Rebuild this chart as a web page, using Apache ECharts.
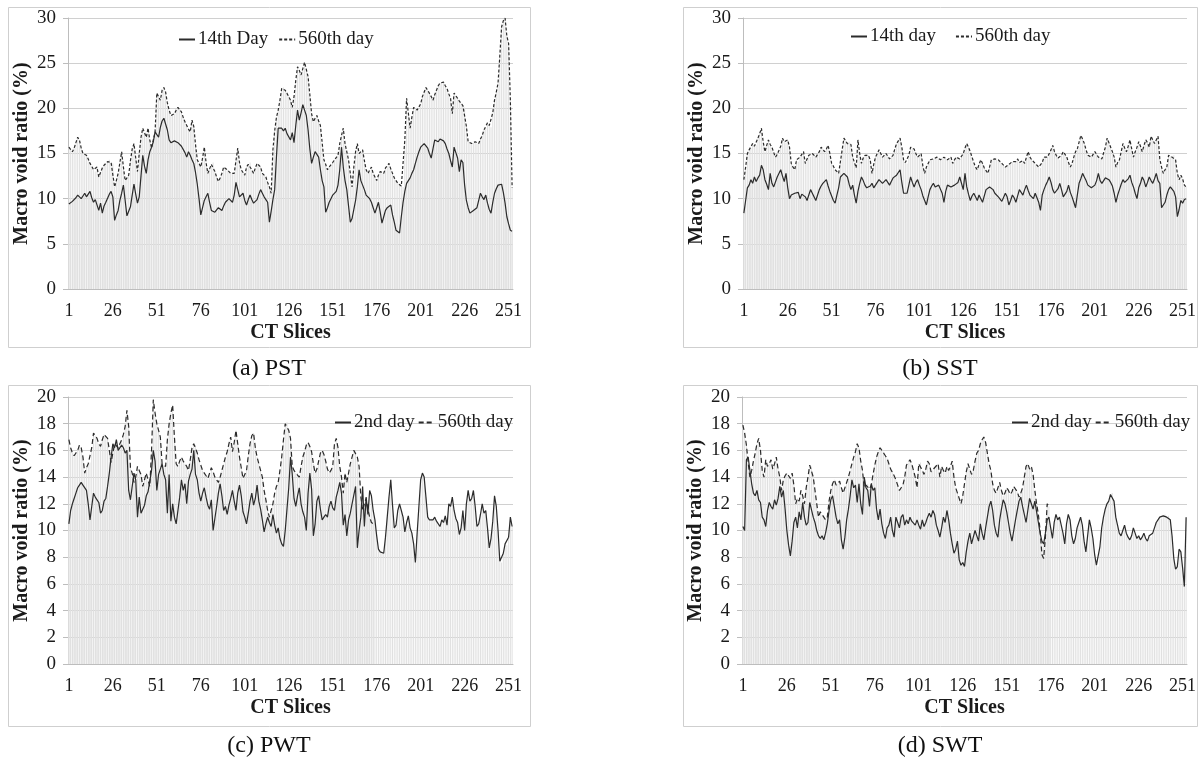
<!DOCTYPE html>
<html>
<head>
<meta charset="utf-8">
<title>Macro void ratio</title>
<script src="https://cdn.jsdelivr.net/npm/echarts@6/dist/echarts.min.js"></script>
<style>
html,body{margin:0;padding:0;background:#fff;}
#main{width:1200px;height:760px;}
</style>
</head>
<body>
<div id="main"></div>
<script>
// CT slice numbers 1..253
var slices = [];
for (var n = 1; n <= 253; n++) { slices.push(String(n)); }

// (a) PST
var pstDay14 = [
9.4,9.5,9.7,9.9,10.1,10.4,10.2,10.0,10.3,10.6,
10.2,10.5,10.8,10.1,9.6,9.9,9.8,8.7,9.5,8.4,
9.2,9.6,9.5,10.5,10.8,10.2,7.6,8.2,8.7,9.8,
10.6,11.5,9.8,8.1,8.6,9.1,10.4,11.6,10.5,9.5,
10.2,12.5,14.8,13.6,12.8,14.3,15.2,15.7,16.3,17.4,
17.6,16.8,17.9,18.6,18.9,19.0,17.6,16.5,16.2,16.3,
16.4,16.3,16.2,16.0,15.8,15.6,15.1,14.6,15.2,14.8,
14.3,13.9,12.9,11.6,10.0,8.2,9.0,9.8,10.2,10.6,
9.6,8.7,8.6,8.5,8.7,9.0,8.9,8.7,9.2,9.6,
9.8,10.0,9.8,9.6,10.4,11.8,11.0,10.2,10.4,10.6,
9.8,9.3,9.9,10.4,9.9,9.5,9.7,9.9,10.5,11.0,
10.6,10.2,9.9,9.6,7.4,8.6,9.9,11.0,14.6,17.8,
17.9,17.8,17.5,17.8,17.2,17.0,16.5,17.3,16.2,18.1,
19.8,18.7,19.5,20.4,19.8,19.2,17.6,15.5,13.9,14.6,
15.2,14.9,14.6,13.2,12.0,11.3,8.5,9.0,9.6,10.0,
10.4,10.2,10.8,11.5,13.2,15.7,13.5,12.0,11.0,9.2,
7.4,7.8,8.0,9.8,11.3,13.2,12.0,11.5,11.0,10.4,
10.2,10.0,9.6,9.0,8.4,9.0,9.6,8.5,7.3,8.0,
8.7,9.0,9.0,9.3,8.2,7.4,6.5,6.3,6.2,8.0,
9.6,10.8,11.7,12.0,12.3,12.8,13.2,13.9,14.6,15.2,
15.7,15.9,16.1,15.9,15.6,15.0,14.5,15.5,16.5,16.3,
16.3,16.6,16.8,16.4,16.1,15.5,15.0,14.2,13.5,15.7,
15.1,14.5,13.0,14.3,14.0,11.5,9.8,9.0,8.4,8.6,
8.7,8.9,9.0,9.8,10.6,10.2,9.9,10.4,9.5,8.8,
8.4,9.6,10.6,11.1,11.5,11.7,11.6,10.7,9.5,8.0,
7.2,6.5,6.4
];
var pstDay560 = [
15.7,15.5,15.2,15.6,16.2,16.8,16.5,15.6,15.0,14.9,
14.8,14.4,13.9,13.6,13.2,13.0,13.5,12.4,12.9,13.4,
13.7,13.9,14.1,14.3,14.0,13.9,11.3,12.0,12.8,14.0,
15.2,13.5,12.0,12.3,12.6,14.2,15.5,16.1,14.5,13.0,
15.0,16.8,17.8,17.3,16.8,17.8,16.5,15.6,16.5,17.4,
21.7,21.3,20.9,22.0,22.3,21.8,20.6,19.8,19.2,19.3,
19.4,19.8,20.1,19.9,19.6,19.0,18.5,18.1,17.7,17.4,
18.7,18.0,16.0,14.3,13.9,13.5,14.5,15.7,14.0,12.8,
13.3,13.8,14.0,13.0,12.4,11.9,12.3,12.8,13.5,13.4,
13.2,13.0,12.8,12.9,12.8,14.2,15.6,14.0,13.2,12.9,
12.6,13.5,13.8,14.0,13.2,12.8,13.4,13.9,13.7,13.5,
12.8,12.6,12.4,11.8,11.3,10.6,15.4,17.5,19.0,19.8,
20.9,22.2,22.3,22.0,21.8,21.3,20.9,20.1,21.3,23.1,
24.6,24.2,23.7,24.4,25.1,24.3,23.5,21.5,19.4,18.5,
18.9,19.2,18.6,18.1,16.2,14.3,13.8,13.2,13.5,13.7,
14.0,14.3,14.5,14.8,16.1,17.0,17.8,16.1,15.2,14.3,
12.8,11.3,13.5,15.2,16.1,15.0,15.2,15.4,14.2,13.2,
12.8,13.0,13.5,12.8,12.4,12.0,12.6,13.0,12.8,12.8,
13.4,13.6,13.9,13.3,12.8,12.3,12.0,11.7,11.5,11.4,
11.3,16.5,21.1,19.5,17.8,19.0,20.1,19.9,19.8,19.8,
20.5,21.3,21.8,22.3,22.0,21.8,21.3,20.9,21.5,22.0,
22.5,22.8,22.9,22.9,22.5,22.2,21.6,21.1,19.4,21.7,
21.4,21.1,20.8,20.6,20.3,20.1,18.0,16.3,16.2,16.1,
16.2,16.3,16.1,16.1,16.6,17.0,17.6,17.8,18.4,18.1,
17.9,19.5,20.9,21.8,22.8,25.8,29.0,29.7,30.0,28.0,
27.2,20.9,11.2
];

// (b) SST
var sstDay14 = [
8.4,9.8,11.2,11.5,12.1,11.7,12.4,11.9,12.3,12.6,
13.7,13.2,12.1,11.6,11.0,12.8,11.7,11.3,11.5,12.4,
12.6,13.2,12.5,11.9,12.8,11.2,10.0,10.4,10.3,10.6,
10.4,10.7,10.0,10.5,10.6,10.2,9.8,10.4,11.0,10.6,
10.5,9.8,10.4,11.0,11.4,11.7,11.9,12.1,11.4,10.8,
10.3,9.8,9.5,10.4,11.2,12.4,12.6,12.8,12.6,12.4,
11.6,11.0,11.5,10.4,9.5,10.8,11.7,12.4,12.0,11.5,
11.2,11.0,11.4,11.7,11.2,11.3,11.8,12.1,11.9,11.7,
11.6,12.1,11.8,11.5,11.9,12.3,12.5,12.6,12.9,13.2,
11.8,10.6,10.8,10.6,11.5,12.4,11.8,11.3,11.8,12.1,
11.5,11.0,10.3,9.8,9.3,10.2,11.0,11.4,11.7,11.3,
11.2,11.5,11.5,10.6,9.6,10.8,11.5,11.7,11.3,11.2,
11.5,11.5,11.8,12.4,12.6,11.0,12.8,11.3,10.5,9.8,
10.3,10.6,10.2,9.8,10.4,10.0,9.6,10.3,11.0,11.2,
11.3,11.1,11.0,10.6,10.4,10.2,10.0,9.7,9.5,10.6,
10.2,9.3,9.8,10.4,10.1,9.6,10.3,11.0,10.7,10.4,
11.0,11.5,10.9,10.4,10.2,10.0,10.6,10.8,9.6,8.7,
10.4,11.0,11.5,11.9,12.4,11.8,11.0,10.6,10.4,11.1,
11.7,11.0,10.2,10.0,10.8,11.5,10.7,10.2,9.6,9.0,
10.4,11.7,12.2,12.8,12.4,12.0,11.5,11.3,11.2,11.4,
11.5,12.0,12.8,12.0,11.7,11.6,12.3,12.2,12.1,11.8,
11.4,10.6,9.6,10.4,11.0,11.6,12.1,11.8,11.7,12.2,
12.6,11.8,11.3,10.6,10.0,11.2,11.7,12.4,12.0,11.3,
11.8,12.4,12.0,11.7,12.2,12.8,12.0,11.7,9.0,9.3,
9.6,10.4,11.0,11.3,11.5,10.8,10.2,8.0,8.8,9.8,
9.5,9.9,10.0
];
var sstDay560 = [
12.1,13.5,15.0,15.4,15.6,16.1,15.8,15.9,16.7,17.2,
17.8,16.3,15.2,15.9,16.5,16.0,15.7,15.1,14.6,14.9,
14.8,15.8,16.7,16.3,16.2,16.5,15.7,13.9,13.5,13.2,
14.3,14.1,14.6,14.9,15.2,13.9,14.4,14.8,14.6,15.0,
14.8,14.6,14.9,15.2,15.7,15.5,15.2,15.5,15.9,15.0,
13.9,13.6,13.2,13.0,12.8,14.1,15.4,16.7,16.4,16.1,
16.3,16.0,14.6,14.0,13.4,16.5,15.0,13.9,14.5,14.8,
15.0,14.8,14.3,12.8,13.8,14.6,15.0,15.4,15.0,14.6,
14.8,15.0,14.7,14.4,14.6,14.8,15.5,16.1,16.4,16.7,
15.7,14.3,14.0,13.9,14.8,15.7,15.6,15.5,15.0,14.6,
14.8,15.0,13.6,12.8,13.5,13.9,14.3,14.3,14.4,14.5,
14.6,14.5,14.3,14.5,14.6,14.4,14.3,14.5,14.6,13.9,
14.3,14.6,14.5,14.4,14.7,15.0,15.6,16.1,15.7,15.2,
14.6,14.0,13.5,13.2,13.8,14.3,13.9,13.4,13.1,12.8,
13.5,14.3,14.4,14.4,14.3,14.3,14.1,13.9,13.7,13.5,
13.7,13.8,13.9,14.1,13.9,14.1,14.4,14.0,13.9,14.2,
13.9,14.6,15.2,14.6,14.3,14.1,13.9,13.7,13.5,13.4,
14.0,14.6,14.6,14.6,15.0,15.4,15.9,15.2,14.8,14.5,
14.3,14.8,15.2,14.9,14.6,14.0,13.5,13.9,14.6,15.2,
15.5,15.7,17.0,16.6,16.1,15.4,14.8,14.7,14.6,14.9,
15.2,15.0,14.6,14.5,14.4,15.1,15.7,16.7,16.2,15.7,
15.2,14.6,13.5,14.0,14.3,15.2,16.1,15.6,15.2,15.8,
16.5,15.5,14.6,15.2,15.7,16.3,15.8,15.2,15.9,16.5,
16.2,15.7,16.9,16.5,16.1,16.5,16.9,14.4,13.5,12.8,
13.2,13.5,14.8,14.7,14.6,14.8,14.3,12.8,12.1,12.6,
12.2,11.5,11.3
];

// (c) PWT
var pwtDay2 = [
10.5,11.5,12.0,12.4,12.8,13.2,13.4,13.6,13.4,13.3,
13.0,12.0,10.8,11.8,12.8,12.5,12.3,12.1,11.3,11.5,
12.2,12.4,13.3,14.3,15.5,16.5,16.2,16.8,16.0,16.0,
16.4,16.2,15.8,16.0,13.0,12.3,12.2,14.3,13.8,11.0,
12.5,11.3,11.6,11.9,12.6,12.9,13.7,14.5,16.0,15.2,
13.0,14.2,14.6,15.0,14.2,13.8,11.3,14.2,10.7,12.0,
11.0,10.5,11.5,12.5,13.8,13.0,13.5,12.0,13.7,14.2,
14.6,16.0,14.2,13.8,12.8,12.2,12.8,13.2,12.5,11.9,
11.6,12.3,10.0,10.9,11.8,12.8,13.5,12.6,11.5,11.8,
11.2,11.9,12.4,13.0,12.2,11.5,12.8,13.4,12.6,11.4,
11.0,10.5,11.3,12.2,12.8,11.9,12.4,13.4,12.2,11.6,
10.8,9.9,10.5,11.0,10.6,10.3,11.2,10.4,9.8,10.2,
9.4,9.0,8.8,10.0,11.6,13.2,15.5,14.2,12.4,11.8,
12.6,13.2,12.0,11.4,11.0,10.0,12.8,14.3,13.1,9.6,
10.5,12.2,12.6,11.6,10.8,11.0,11.2,11.0,11.8,12.2,
11.7,11.5,12.5,13.0,13.6,12.8,10.4,11.2,9.6,10.8,
11.3,12.0,12.0,13.3,8.7,10.0,11.0,13.3,10.3,12.5,
11.2,13.0,12.6,11.5,10.8,9.6,8.6,8.4,8.3,8.3,
9.5,11.0,12.5,13.8,11.9,10.2,10.4,11.5,12.0,11.5,
11.0,9.9,10.6,11.1,10.2,9.8,9.0,7.6,9.8,11.8,
13.8,14.3,14.0,12.5,11.0,10.8,10.9,10.8,11.0,10.7,
10.6,10.3,10.8,10.6,11.1,10.4,12.0,11.8,12.5,11.5,
10.9,10.6,9.7,10.2,11.5,10.0,12.0,13.0,12.2,12.4,
13.0,11.8,10.3,10.5,11.2,12.0,11.3,11.5,10.2,8.7,
9.4,10.7,12.6,11.8,10.0,7.7,7.6,8.3,9.0,8.9,
9.5,11.0,10.3
];
var pwtDay560 = [
16.8,16.2,15.8,15.6,15.7,16.0,16.4,16.2,15.5,14.3,
14.7,15.0,15.1,16.2,17.3,17.1,16.9,16.5,16.3,16.8,
17.2,17.1,16.9,16.0,15.1,15.8,16.5,16.4,16.2,16.5,
16.8,17.2,17.8,19.0,17.8,14.7,14.3,13.6,14.0,14.8,
14.5,14.2,13.3,13.8,14.3,13.8,13.3,16.0,19.8,18.8,
18.0,17.5,17.0,15.0,14.9,14.8,16.8,18.0,18.8,19.4,
17.0,15.0,14.8,15.2,15.5,15.2,15.0,14.8,14.5,15.3,
16.2,16.5,16.4,15.8,15.3,14.9,14.5,14.3,14.1,13.9,
14.3,14.7,14.4,14.0,13.8,13.6,14.0,14.5,15.0,15.5,
15.9,16.5,17.0,15.9,16.6,17.5,16.5,15.5,14.7,13.9,
14.2,14.5,15.6,16.5,17.1,17.3,16.2,15.5,15.0,14.5,
14.0,13.0,12.3,11.5,11.0,11.5,12.0,12.8,13.3,13.6,
14.5,15.5,16.8,18.0,18.1,17.5,16.9,14.8,14.5,14.3,
14.3,14.0,14.8,15.5,15.9,16.4,16.6,16.3,15.9,15.0,
14.3,14.6,15.2,15.8,16.0,15.7,15.2,14.6,14.3,14.5,
14.8,16.5,16.9,16.2,14.8,14.0,12.8,14.3,13.6,14.3,
15.0,15.5,16.0,15.9,15.5,14.8,12.5,11.5,12.0,12.4,
11.6,11.0,10.6,10.5
];

// (d) SWT
var swtDay2 = [
10.3,10.0,15.3,15.5,14.5,13.5,12.8,12.6,13.0,12.3,
12.1,11.0,10.8,10.3,11.5,12.1,11.8,11.6,12.3,11.9,
12.4,13.3,12.5,13.0,11.6,10.0,8.9,8.1,9.2,10.6,
11.0,10.2,11.4,10.8,12.1,11.0,10.4,10.6,12.1,12.1,
11.0,10.6,10.0,9.6,9.4,9.6,9.3,9.8,10.5,11.5,
12.3,12.6,11.8,11.0,10.5,10.8,9.3,8.6,9.5,10.8,
11.6,12.6,13.8,13.2,13.4,12.1,13.5,12.0,11.2,14.0,
13.2,13.0,11.8,13.5,13.0,13.2,11.6,10.8,11.6,10.5,
9.8,9.4,10.2,10.4,11.0,10.0,9.5,11.0,10.6,10.2,
11.0,11.2,10.4,10.8,10.5,11.0,10.7,10.6,10.4,10.8,
10.4,10.1,10.8,10.3,10.6,11.0,11.3,11.0,11.5,11.2,
10.4,10.0,9.5,10.2,11.0,10.6,11.5,10.8,9.8,9.0,
8.3,8.6,9.2,7.8,7.4,7.6,7.3,8.4,9.2,9.8,
9.0,9.5,10.0,9.6,9.2,10.5,9.8,9.3,10.2,11.0,
11.8,12.2,11.5,10.4,9.8,9.5,10.8,11.6,12.3,12.0,
11.4,10.6,9.8,9.2,10.0,10.8,11.5,12.2,12.5,11.8,
11.2,10.6,11.5,12.4,12.0,11.6,12.2,11.4,10.6,9.8,
9.2,9.0,9.8,10.8,11.0,10.2,9.4,10.6,11.2,10.8,
11.0,10.4,9.8,9.0,10.5,11.2,10.8,9.6,9.0,9.4,
10.2,10.6,11.0,10.4,9.2,8.4,9.6,10.8,10.2,9.4,
8.2,7.4,7.3,8.8,10.2,11.0,11.6,12.0,12.2,12.7,
12.8,12.2,11.0,10.4,9.8,9.6,10.0,10.4,9.8,9.5,
9.3,9.6,10.2,9.8,9.4,9.6,9.3,9.5,9.8,9.4,
9.2,9.6,9.5,9.8,10.2,10.6,10.8,11.0,10.9,11.1,
11.2,11.0,11.1,10.8,9.6,7.9,7.1,7.3,8.6,8.4,
7.2,5.8,11.0
];
var swtDay560 = [
17.9,17.3,16.4,15.1,14.0,14.5,15.2,15.8,16.5,16.9,
16.0,14.5,14.0,15.3,14.8,15.0,15.3,14.6,15.0,15.5,
14.6,14.0,13.0,13.8,14.1,14.3,14.1,13.9,14.3,13.4,
12.0,12.4,12.2,13.0,12.6,12.0,13.2,14.0,14.9,14.8,
14.0,13.0,12.0,11.0,11.4,11.2,11.0,10.8,11.0,12.2,
13.0,13.5,13.8,13.4,13.5,13.7,13.2,12.8,13.2,13.6,
14.0,14.5,15.0,15.5,15.9,16.5,16.2,15.2,14.5,13.2,
13.4,13.5,13.1,13.4,14.2,14.9,15.5,15.9,16.2,16.0,
15.9,15.6,15.4,15.0,14.6,14.5,14.1,13.8,13.4,13.0,
13.2,13.4,14.0,14.9,15.1,15.3,15.0,14.5,14.0,13.2,
15.0,15.1,14.5,14.2,14.6,15.2,15.0,14.4,14.5,14.7,
14.8,15.0,14.0,14.8,14.5,14.3,14.8,14.5,14.8,15.2,
14.0,13.2,12.8,12.4,12.0,12.6,13.5,14.4,15.0,14.6,
14.2,14.5,15.2,15.8,16.0,16.5,16.8,17.0,16.6,15.8,
15.0,14.5,13.5,13.0,12.8,13.2,13.6,13.0,12.6,12.8,
13.2,13.0,12.7,12.9,13.3,13.1,12.9,12.5,12.8,13.2,
14.0,14.8,15.0,14.6,14.8,14.2,13.0,12.0,11.2,10.0,
8.2,7.9,9.5,12.0,11.8
];

var FONT = "Liberation Serif";
var INK = "#1a1a1a";

var panels = [
	{ grid:{left:68, top:18, width:445, height:271}, yMax:30, yStep:5,
	  early:"14th Day", d1:pstDay14, d2:pstDay560, dash:[3,2], gap:10,
	  legend:{left:173, top:25}, box:[8,7,522,340], cap:"(a) PST", capPos:[269,369] },
	{ grid:{left:743, top:18, width:444, height:271}, yMax:30, yStep:5,
	  early:"14th day", d1:sstDay14, d2:sstDay560, dash:[3,2], gap:19,
	  legend:{left:845, top:22}, box:[683,7,514,340], cap:"(b) SST", capPos:[940,369] },
	{ grid:{left:68, top:397, width:445, height:267}, yMax:20, yStep:2,
	  early:"2nd day", d1:pwtDay2, d2:pwtDay560, dash:[5,3], gap:3,
	  legend:{left:329, top:408}, box:[8,385,522,341], cap:"(c) PWT", capPos:[269,746] },
	{ grid:{left:742, top:397, width:445, height:267}, yMax:20, yStep:2,
	  early:"2nd day", d1:swtDay2, d2:swtDay560, dash:[5,3], gap:3,
	  legend:{left:1006, top:408}, box:[683,385,514,341], cap:"(d) SWT", capPos:[940,746] }
];

function buildOption(){
	var opt = { animation:false, backgroundColor:"#fff",
		grid:[], xAxis:[], yAxis:[], legend:[], series:[], graphic:[] };
	for (var i = 0; i < panels.length; i++) {
		var p = panels[i];
		opt.grid.push(p.grid);
		opt.xAxis.push({
			type:"category", gridIndex:i, data:slices, boundaryGap:true,
			name:"CT Slices", nameLocation:"middle", nameGap:34,
			nameTextStyle:{fontFamily:FONT, fontSize:20, fontWeight:"bold", color:INK},
			axisLine:{lineStyle:{color:"#bdbdbd"}},
			axisTick:{show:false},
			axisLabel:{interval:24, margin:13, fontFamily:FONT, fontSize:18, color:INK}
		});
		opt.yAxis.push({
			type:"value", gridIndex:i, min:0, max:p.yMax, interval:p.yStep,
			name:"Macro void ratio (%)", nameLocation:"middle", nameGap:36, nameRotate:90,
			nameTextStyle:{fontFamily:FONT, fontSize:20, fontWeight:"bold", color:INK},
			axisLine:{show:true, lineStyle:{color:"#bdbdbd"}},
			axisTick:{show:true, length:5, lineStyle:{color:"#bdbdbd"}},
			axisLabel:{margin:12, fontFamily:FONT, fontSize:19, color:INK},
			splitLine:{lineStyle:{color:"#d0d0d0"}}
		});
		opt.legend.push({
			left:p.legend.left, top:p.legend.top, itemWidth:16, itemHeight:12, itemGap:p.gap,
			itemStyle:{opacity:0},
			textStyle:{fontFamily:FONT, fontSize:19, color:INK, padding:[0,0,0,-2]},
			data:[{name:p.early}, {name:"560th day", lineStyle:{type:p.dash}}]
		});
		// drop lines under each curve
		opt.series.push({ type:"bar", name:"drop", xAxisIndex:i, yAxisIndex:i, data:p.d1,
			barWidth:1, barGap:"-100%", silent:true, itemStyle:{color:"#e0e0e0"}, z:1 });
		opt.series.push({ type:"bar", name:"drop", xAxisIndex:i, yAxisIndex:i, data:p.d2,
			barWidth:1, barGap:"-100%", silent:true, itemStyle:{color:"#e0e0e0"}, z:1 });
		opt.series.push({ type:"line", name:p.early, xAxisIndex:i, yAxisIndex:i, data:p.d1,
			symbol:"none", lineStyle:{color:"#2b2b2b", width:1.2}, itemStyle:{color:"#2b2b2b"}, z:3 });
		opt.series.push({ type:"line", name:"560th day", xAxisIndex:i, yAxisIndex:i, data:p.d2,
			symbol:"none", lineStyle:{color:"#2b2b2b", width:1.2, type:p.dash}, itemStyle:{color:"#2b2b2b"}, z:3 });
		opt.graphic.push({ type:"rect", silent:true, z:0,
			shape:{x:p.box[0]+0.5, y:p.box[1]+0.5, width:p.box[2], height:p.box[3]},
			style:{fill:null, stroke:"#cfcfcf", lineWidth:1} });
		opt.graphic.push({ type:"text", silent:true, x:p.capPos[0], y:p.capPos[1],
			style:{text:p.cap, fontFamily:FONT, fontSize:24, fill:"#111", textAlign:"center", textVerticalAlign:"middle"} });
	}
	return opt;
}

var chart = echarts.init(document.getElementById("main"), null, {renderer:"canvas"});
chart.setOption(buildOption());
</script>
</body>
</html>
